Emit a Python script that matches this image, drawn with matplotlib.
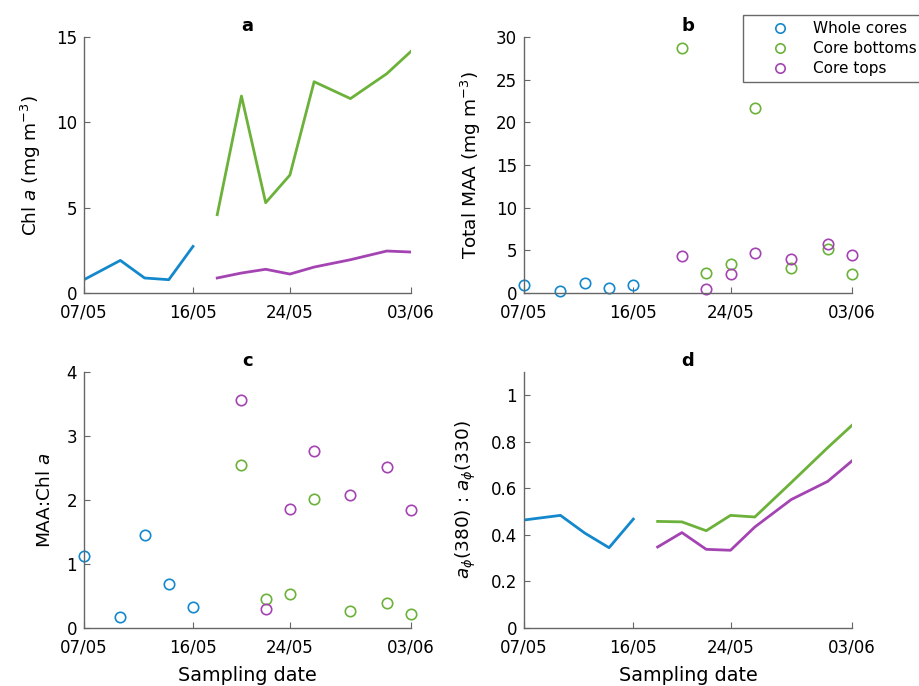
import datetime as dt

import matplotlib
matplotlib.use("Agg")
import matplotlib.dates as mdates
import matplotlib.pyplot as plt
from matplotlib.ticker import FormatStrFormatter

YEAR = 2016


def d(day, month):
    return dt.datetime(YEAR, month, day)


# sampling dates
dates_whole = [d(7, 5), d(10, 5), d(12, 5), d(14, 5), d(16, 5)]
dates_split = [d(18, 5), d(20, 5), d(22, 5), d(24, 5), d(26, 5), d(29, 5), d(1, 6), d(3, 6)]
dates_maa = dates_split[1:]

# panel a: Chl a (mg m-3)
chl_whole = [0.78, 1.91, 0.88, 0.78, 2.73]
chl_bottom = [4.59, 11.54, 5.29, 6.91, 12.38, 11.39, 12.85, 14.16]
chl_top = [0.88, 1.17, 1.39, 1.11, 1.52, 1.95, 2.46, 2.40]

# panel b: total MAA (mg m-3)
maa_whole = [0.98, 0.27, 1.21, 0.55, 0.90]
maa_bottom = [28.67, 2.38, 3.44, 21.68, 2.93, 5.16, 2.27]
maa_top = [4.38, 0.47, 2.27, 4.65, 4.02, 5.78, 4.41]

# panel c: MAA:Chl a
ratio_whole = [1.13, 0.17, 1.45, 0.68, 0.33]
ratio_bottom = [2.54, 0.46, 0.53, 2.01, 0.26, 0.39, 0.22]
ratio_top = [3.57, 0.29, 1.86, 2.76, 2.08, 2.51, 1.84]

# panel d: a_phi(380) : a_phi(330)
aphi_whole = [0.464, 0.484, 0.408, 0.345, 0.468]
aphi_bottom = [0.458, 0.456, 0.418, 0.484, 0.477, 0.625, 0.775, 0.871]
aphi_top = [0.348, 0.410, 0.338, 0.334, 0.434, 0.552, 0.630, 0.718]

xticks = [d(7, 5), d(16, 5), d(24, 5), d(3, 6)]

c_whole = "#1488cc"
c_bottom = "#6cb23a"
c_top = "#a444b2"
axis_gray = "#666666"
FS = 12

plt.rcParams["font.family"] = "DejaVu Sans"
plt.rcParams["mathtext.fontset"] = "dejavusans"

fig = plt.figure(figsize=(9.19, 6.86), dpi=100)
W, H = 919, 686


def add_ax(left, top, right, bottom):
    return fig.add_axes([left / W, 1 - bottom / H, (right - left) / W, (bottom - top) / H])


ax_a = add_ax(84, 37, 411, 293)
ax_b = add_ax(524, 37, 852, 293)
ax_c = add_ax(84, 372, 411, 628)
ax_d = add_ax(524, 372, 852, 628)

for ax, letter in zip([ax_a, ax_b, ax_c, ax_d], "abcd"):
    ax.spines["top"].set_visible(False)
    ax.spines["right"].set_visible(False)
    for s in ["left", "bottom"]:
        ax.spines[s].set_color(axis_gray)
        ax.spines[s].set_linewidth(1.0)
    ax.tick_params(direction="in", length=4, color=axis_gray, labelsize=FS)
    ax.tick_params(axis="x", pad=7.5)
    ax.tick_params(axis="y", pad=5)
    ax.set_xlim(d(7, 5), d(3, 6))
    ax.set_xticks(xticks)
    ax.xaxis.set_major_formatter(mdates.DateFormatter("%d/%m"))
    ax.yaxis.set_major_formatter(FormatStrFormatter("%g"))
    ax.set_title(letter, fontweight="bold", fontsize=13, pad=4)

lw = 2.0
ylab_fs = 13.3
# a
ax_a.plot(dates_whole, chl_whole, color=c_whole, lw=lw)
ax_a.plot(dates_split, chl_bottom, color=c_bottom, lw=lw)
ax_a.plot(dates_split, chl_top, color=c_top, lw=lw)
ax_a.set_ylim(0, 15)
ax_a.set_yticks([0, 5, 10, 15])
ax_a.set_ylabel(r"Chl $\it{a}$ (mg m$^{-3}$)", fontsize=ylab_fs, labelpad=9)

# b
ms = 7.5
mew = 1.2
ax_b.plot(dates_whole, maa_whole, "o", mfc="none", mec=c_whole, ms=ms, mew=mew, label="Whole cores")
ax_b.plot(dates_maa, maa_bottom, "o", mfc="none", mec=c_bottom, ms=ms, mew=mew, label="Core bottoms")
ax_b.plot(dates_maa, maa_top, "o", mfc="none", mec=c_top, ms=ms, mew=mew, label="Core tops")
ax_b.set_ylim(0, 30)
ax_b.set_yticks([0, 5, 10, 15, 20, 25, 30])
ax_b.set_ylabel(r"Total MAA (mg m$^{-3}$)", fontsize=ylab_fs, labelpad=9)
for ln in ax_b.lines:
    ln.set_clip_on(False)
leg = ax_b.legend(loc="upper left", bbox_to_anchor=(743 / W, 1 - 15 / H), bbox_transform=fig.transFigure,
                  fontsize=11, frameon=True, fancybox=False, edgecolor="#444444",
                  borderaxespad=0, handletextpad=0.15, labelspacing=0.33, borderpad=0.4,
                  handlelength=4.0, markerscale=0.9)
leg.get_frame().set_linewidth(1.0)

# c
ax_c.plot(dates_whole, ratio_whole, "o", mfc="none", mec=c_whole, ms=ms, mew=mew, clip_on=False)
ax_c.plot(dates_maa, ratio_bottom, "o", mfc="none", mec=c_bottom, ms=ms, mew=mew, clip_on=False)
ax_c.plot(dates_maa, ratio_top, "o", mfc="none", mec=c_top, ms=ms, mew=mew, clip_on=False)
ax_c.set_ylim(0, 4)
ax_c.set_yticks([0, 1, 2, 3, 4])
ax_c.set_ylabel(r"MAA:Chl $\it{a}$", fontsize=ylab_fs, labelpad=9)
ax_c.set_xlabel("Sampling date", fontsize=13.8, labelpad=7)

# d
ax_d.plot(dates_whole, aphi_whole, color=c_whole, lw=lw)
ax_d.plot(dates_split, aphi_bottom, color=c_bottom, lw=lw)
ax_d.plot(dates_split, aphi_top, color=c_top, lw=lw)
ax_d.set_ylim(0, 1.1)
ax_d.set_yticks([0, 0.2, 0.4, 0.6, 0.8, 1.0])
ax_d.set_ylabel(r"$\it{a}_{\phi}$(380) : $\it{a}_{\phi}$(330)", fontsize=ylab_fs, labelpad=9)
ax_d.set_xlabel("Sampling date", fontsize=13.8, labelpad=7)

fig.savefig("out.png", dpi=100)
